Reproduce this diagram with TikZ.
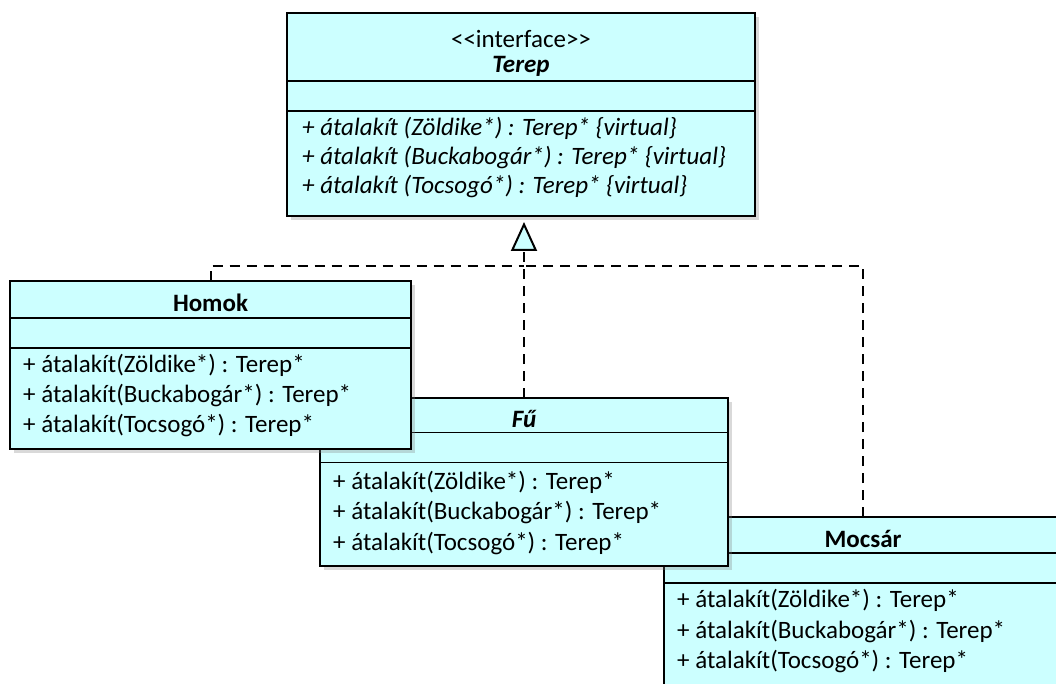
\documentclass[tikz,border=0pt]{standalone}
\usepackage{fontspec}
\newfontfamily\umlfont{Carlito}
\usetikzlibrary{shadows,arrows.meta,calc}
\definecolor{classfill}{HTML}{CCFFFF}
\begin{document}
\begin{tikzpicture}[x=1pt,y=-1pt,
  classbox/.style={draw=black, line width=2pt, fill=classfill, inner sep=0pt,
    outer sep=0pt, anchor=north west,
    drop shadow={shadow xshift=4pt, shadow yshift=-4pt, opacity=0.3}},
  sep/.style={line width=1.8pt},
  member/.style={anchor=base west, inner sep=0pt, font=\umlfont\fontsize{25}{30}\selectfont},
  vmember/.style={member, font=\umlfont\fontsize{25}{30}\selectfont\itshape},
  title/.style={anchor=base, inner sep=0pt, font=\umlfont\fontsize{25}{30}\selectfont\bfseries},
  stereo/.style={anchor=base, inner sep=0pt, font=\umlfont\fontsize{25}{30}\selectfont},
  realize/.style={line width=2pt, dash pattern=on 10pt off 7pt},
]
\useasboundingbox (0,0) rectangle (1056,684);
\clip (0,0) rectangle (1056,684);

% interface Terep
\node[classbox, minimum width=468pt, minimum height=203pt] (terep) at (287,13) {};
\draw[sep] ($(terep.north west)+(0,68)$) -- ($(terep.north east)+(0,68)$);
\draw[sep] ($(terep.north west)+(0,98)$) -- ($(terep.north east)+(0,98)$);
\node[stereo] (terep-st) at (521,48) {<<interface>>};
\node[title, font=\umlfont\fontsize{25}{30}\selectfont\bfseries\itshape] (terep-name) at (521,73) {Terep};
\node[vmember] (terep-m1) at (302,136) {+ átalakít (Zöldike*) : Terep* \{virtual\}};
\node[vmember] (terep-m2) at (302,165) {+ átalakít (Buckabogár*) : Terep* \{virtual\}};
\node[vmember] (terep-m3) at (302,194) {+ átalakít (Tocsogó*) : Terep* \{virtual\}};

% class Mocsar
\node[classbox, minimum width=398pt, minimum height=168pt] (mocsar) at (664,517) {};
\draw[sep] ($(mocsar.north west)+(0,36)$) -- ($(mocsar.north east)+(0,36)$);
\draw[sep] ($(mocsar.north west)+(0,66)$) -- ($(mocsar.north east)+(0,66)$);
\node[title] (mocsar-name) at (863,547) {Mocsár};
\node[member] (mocsar-m1) at (677,607) {+ átalakít(Zöldike*) : Terep*};
\node[member] (mocsar-m2) at (677,638) {+ átalakít(Buckabogár*) : Terep*};
\node[member] (mocsar-m3) at (677,668) {+ átalakít(Tocsogó*) : Terep*};

% class Fu
\node[classbox, minimum width=408pt, minimum height=167.5pt] (fu) at (320,398) {};
\draw[sep] ($(fu.north west)+(0,34.5)$) -- ($(fu.north east)+(0,34.5)$);
\draw[sep] ($(fu.north west)+(0,64.5)$) -- ($(fu.north east)+(0,64.5)$);
\node[title, font=\umlfont\fontsize{25}{30}\selectfont\bfseries\itshape] (fu-name) at (524,427) {Fű};
\node[member] (fu-m1) at (333,489) {+ átalakít(Zöldike*) : Terep*};
\node[member] (fu-m2) at (333,519.5) {+ átalakít(Buckabogár*) : Terep*};
\node[member] (fu-m3) at (333,550) {+ átalakít(Tocsogó*) : Terep*};

% class Homok
\node[classbox, minimum width=401pt, minimum height=168pt] (homok) at (10,281) {};
\draw[sep] ($(homok.north west)+(0,37)$) -- ($(homok.north east)+(0,37)$);
\draw[sep] ($(homok.north west)+(0,67)$) -- ($(homok.north east)+(0,67)$);
\node[title] (homok-name) at (210.5,311) {Homok};
\node[member] (homok-m1) at (23,372) {+ átalakít(Zöldike*) : Terep*};
\node[member] (homok-m2) at (23,402) {+ átalakít(Buckabogár*) : Terep*};
\node[member] (homok-m3) at (23,432) {+ átalakít(Tocsogó*) : Terep*};

% realizations of the interface
\coordinate (junc) at ($(fu.north)+(0,-132)$);
\draw[realize, -{Triangle[fill=classfill, length=29pt, width=26pt]}, shorten >=6pt]
  (fu.north) -- (fu.north |- terep.south);
\draw[realize] (homok.north) |- (junc);
\draw[realize] (mocsar.north) |- (junc);
\end{tikzpicture}
\end{document}
